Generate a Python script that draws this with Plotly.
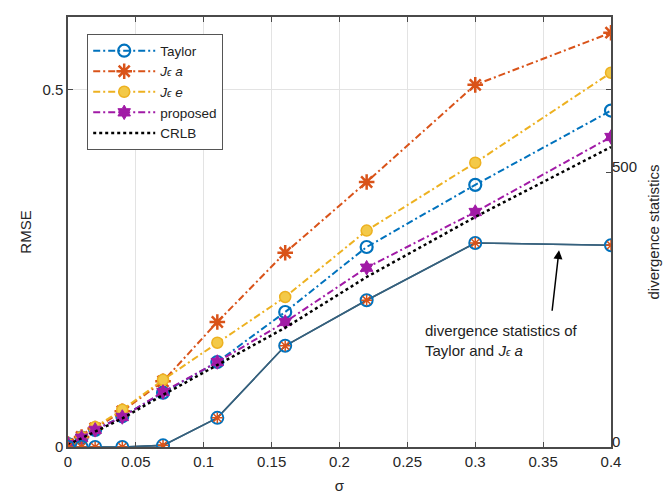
import plotly.graph_objects as go

sigma = [0, 0.01, 0.02, 0.04, 0.07, 0.11, 0.16, 0.22, 0.3, 0.4]
rmse_taylor = [0.004, 0.013, 0.024, 0.043, 0.076, 0.119, 0.189, 0.280, 0.367, 0.471]
rmse_jea = [0.004, 0.014, 0.026, 0.050, 0.092, 0.175, 0.272, 0.371, 0.507, 0.580]
rmse_jee = [0.004, 0.014, 0.028, 0.052, 0.094, 0.146, 0.210, 0.303, 0.398, 0.524]
rmse_proposed = [0.004, 0.013, 0.024, 0.042, 0.077, 0.119, 0.175, 0.251, 0.329, 0.434]
rmse_crlb = [0.003, 0.012, 0.022, 0.040, 0.073, 0.115, 0.167, 0.238, 0.322, 0.420]
div_taylor = [0, 0, 0, 0, 3, 53, 184, 267, 371, 367]
div_jea = [0, 0, 0, 0, 3, 53, 184, 267, 371, 367]
x_ticks = [0, 0.05, 0.1, 0.15, 0.2, 0.25, 0.3, 0.35, 0.4]
x_ticklabels = ["0", "0.05", "0.1", "0.15", "0.2", "0.25", "0.3", "0.35", "0.4"]

BLUE = "#0072BD"
ORANGE = "#D95319"
YELLOW = "#EDB120"
PURPLE = "#A11AA6"
AXC = "#4a4a4a"
FONT = "Liberation Sans, Arial, sans-serif"
DASHDOT = "7px,3px,2px,3px"

JE = "<i>J</i><span style='font-size:10px'><i>ϵ</i></span>"

fig = go.Figure()

# divergence statistics (right axis)
fig.add_trace(go.Scatter(
    x=sigma, y=div_jea, yaxis="y2", mode="lines", showlegend=False,
    line=dict(color="#3a5d75", width=1.6)))
fig.add_trace(go.Scatter(
    x=sigma, y=div_taylor, yaxis="y2", mode="lines+markers", showlegend=False,
    line=dict(color="#35617e", width=1.6),
    marker=dict(symbol="circle-open", size=12, color=BLUE, line=dict(width=2, color=BLUE))))
fig.add_trace(go.Scatter(
    x=sigma, y=div_jea, yaxis="y2", mode="markers", showlegend=False,
    marker=dict(symbol="asterisk-open", size=9, color=ORANGE, line=dict(width=1.5, color=ORANGE))))

# RMSE curves (left axis)
fig.add_trace(go.Scatter(
    x=sigma, y=rmse_taylor, mode="lines+markers", name="Taylor",
    line=dict(color=BLUE, width=2, dash=DASHDOT),
    marker=dict(symbol="circle-open", size=12, color=BLUE, line=dict(width=2.2, color=BLUE))))
fig.add_trace(go.Scatter(
    x=sigma, y=rmse_jea, mode="lines+markers", name=JE + " <i>a</i>",
    line=dict(color=ORANGE, width=2, dash=DASHDOT),
    marker=dict(symbol="asterisk-open", size=13, color=ORANGE, line=dict(width=2.5, color=ORANGE))))
fig.add_trace(go.Scatter(
    x=sigma, y=rmse_jee, mode="lines+markers", name=JE + " <i>e</i>",
    line=dict(color=YELLOW, width=2, dash=DASHDOT),
    marker=dict(symbol="circle", size=11, color="#f3c948", line=dict(width=1.5, color=YELLOW))))
fig.add_trace(go.Scatter(
    x=sigma, y=rmse_proposed, mode="lines+markers", name="proposed",
    line=dict(color=PURPLE, width=2, dash=DASHDOT),
    marker=dict(symbol="hexagram", size=11, color=PURPLE, line=dict(width=1, color=PURPLE))))
fig.add_trace(go.Scatter(
    x=sigma, y=rmse_crlb, mode="lines", name="CRLB",
    line=dict(color="black", width=2.5, dash="dot")))

# annotation
fig.add_annotation(
    x=0.3617, y=358, xref="x", yref="y2",
    ax=0.3565, ay=245, axref="x", ayref="y2",
    text="", showarrow=True, arrowhead=2, arrowsize=1.2, arrowwidth=1.5,
    arrowcolor="black", standoff=0, startstandoff=0)
fig.add_annotation(
    x=0.2615, y=194, xref="x", yref="y2",
    text="divergence statistics of<br>Taylor and " + JE + " <i>a</i>",
    showarrow=False, xanchor="left", yanchor="middle", align="left",
    font=dict(family=FONT, size=15, color="#222"))

fig.update_layout(
    width=663, height=487,
    margin=dict(l=60, r=60, t=9, b=48, autoexpand=False),
    paper_bgcolor="white", plot_bgcolor="white",
    font=dict(family=FONT, size=15, color="#262626"),
    xaxis=dict(
        range=[0, 0.4], tickvals=x_ticks, ticktext=x_ticklabels,
        showgrid=True, gridcolor="#e3e3e3", gridwidth=1,
        showline=True, linecolor=AXC, linewidth=1.5, mirror="ticks",
        ticks="inside", ticklen=5, tickcolor=AXC, zeroline=False,
        automargin=False,
        title=dict(text="σ", standoff=12, font=dict(size=15)),
        tickfont=dict(size=15)),
    yaxis=dict(
        range=[0, 0.602], tickvals=[0, 0.5], ticktext=["0", "0.5"],
        showgrid=True, gridcolor="#e3e3e3", gridwidth=1,
        showline=True, linecolor=AXC, linewidth=1.5, mirror="ticks",
        ticks="inside", ticklen=5, tickcolor=AXC, zeroline=False,
        automargin=False,
        title=dict(text="RMSE", standoff=7, font=dict(size=15)),
        tickfont=dict(size=15)),
    yaxis2=dict(
        range=[0, 782], tickvals=[0, 500], overlaying="y", side="right",
        showgrid=False, zeroline=False, showline=False,
        ticks="inside", ticklen=5, tickcolor=AXC, automargin=False,
        ticklabelshift=-5,
        title=dict(text="divergence statistics", standoff=12, font=dict(size=15)),
        tickfont=dict(size=15)),
    legend=dict(
        x=0.035, y=0.96, xanchor="left", yanchor="top",
        bgcolor="white", bordercolor="#555", borderwidth=1.2,
        font=dict(family=FONT, size=13.5, color="#222"),
        tracegroupgap=0, itemwidth=62),
)

fig.write_html("out.html")
